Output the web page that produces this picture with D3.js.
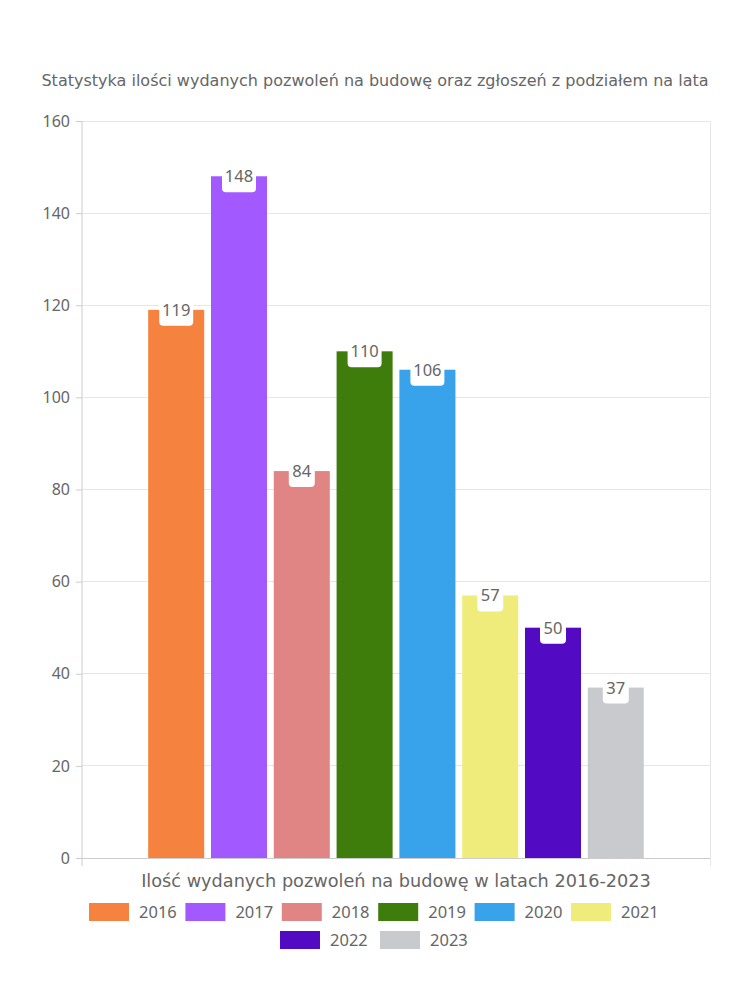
<!DOCTYPE html>
<html><head><meta charset="utf-8">
<script src="https://cdn.jsdelivr.net/npm/d3@7"></script>
<style>body{margin:0;background:#fff}svg{display:block}</style>
</head><body>
<svg id="c" width="750" height="1000" font-family="Noto Sans, sans-serif"></svg>
<script>
const years = ["2016","2017","2018","2019","2020","2021","2022","2023"];
const values = [119,148,84,110,106,57,50,37];
const colors = ["#F5833F","#A259FF","#E08484","#3E7D0B","#38A3EB","#F0EC7B","#520AC2","#C9CACE"];
const yTicks = [0,20,40,60,80,100,120,140,160];
const category = ["Ilość wydanych pozwoleń na budowę w latach 2016-2023"];
const title = "Statystyka ilości wydanych pozwoleń na budowę oraz zgłoszeń z podziałem na lata";

const svg = d3.select("#c");
const L=82,R=710,T=121,B=858;
const y = d3.scaleLinear().domain([0,160]).range([B,T]);
const x0 = d3.scaleBand().domain(category).range([L,R]).paddingInner(0).paddingOuter(0.125);
const x1 = d3.scaleBand().domain(years).range([0,x0.bandwidth()]).paddingInner(0.108).paddingOuter(0.054);
const textCol="#666";

function fitText(sel, target){
  const w = sel.node().getComputedTextLength();
  const fs = parseFloat(sel.style("font-size"));
  sel.style("font-size", (fs*target/w)+"px");
}

const tt = svg.append("text").attr("x",375).attr("y",86).attr("text-anchor","middle")
  .style("font-family","DejaVu Sans").style("font-size","15px").attr("fill",textCol).text(title);
fitText(tt, 668);

// grid
svg.append("g").selectAll("line").data(yTicks).join("line")
  .attr("x1",L).attr("x2",R).attr("y1",d=>y(d)).attr("y2",d=>y(d))
  .attr("stroke",d=>d===0?"#ccc":"#e6e6e6").attr("stroke-width",1).attr("shape-rendering","crispEdges");
svg.append("line").attr("x1",R).attr("x2",R).attr("y1",T).attr("y2",B+8).attr("stroke","#e6e6e6").attr("shape-rendering","crispEdges");

const ya = svg.append("g").attr("transform",`translate(${L},0)`)
  .call(d3.axisLeft(y).tickValues(yTicks).tickSize(6).tickPadding(6));
ya.attr("font-family",null).attr("font-size",null);
ya.select(".domain").attr("stroke","#ccc").attr("d",`M-0,${T}V${B+8}`);
ya.selectAll(".tick line").attr("stroke","#ccc");
ya.selectAll("text").style("font-size","16px").attr("fill",textCol).style("font-family","Noto Sans");

// bars
const g = svg.append("g").attr("transform",`translate(${x0(category[0])},0)`);
const data = years.map((k,i)=>({k,v:values[i],c:colors[i]}));
g.selectAll("rect.bar").data(data).join("rect").attr("class","bar")
  .attr("x",d=>x1(d.k)).attr("width",x1.bandwidth())
  .attr("y",d=>y(d.v)).attr("height",d=>B-y(d.v)).attr("fill",d=>d.c);

// labels
const lab = g.selectAll("g.lab").data(data).join("g").attr("class","lab")
  .attr("transform",d=>`translate(${x1(d.k)+x1.bandwidth()/2},${y(d.v)})`);
lab.append("rect").attr("x",d=>d.v>=100?-17:-13).attr("width",d=>d.v>=100?34:26)
  .attr("y",-13).attr("height",29).attr("rx",4).attr("fill","#fff");
lab.append("text").attr("text-anchor","middle").attr("y",6).style("font-size","16.5px")
  .attr("fill",textCol).text(d=>d.v);

// x title
const xt = svg.append("text").attr("x",396).attr("y",887).attr("text-anchor","middle")
  .style("font-family","DejaVu Sans").style("font-size","16px").attr("fill",textCol).text(category[0]);
fitText(xt, 510);

// legend
const rows=[years.slice(0,6),years.slice(6)];
const rowStart=[89,280], rowY=[903,931];
rows.forEach((r,ri)=>{
  r.forEach((k,j)=>{
    const i=years.indexOf(k);
    const xx=rowStart[ri]+j*(ri===0?96.4:100);
    svg.append("rect").attr("x",xx).attr("y",rowY[ri]).attr("width",40).attr("height",18).attr("fill",colors[i]);
    svg.append("text").attr("x",xx+50).attr("y",rowY[ri]+15).style("font-size","16.5px").attr("fill",textCol).text(k);
  });
});
</script>
</body></html>
